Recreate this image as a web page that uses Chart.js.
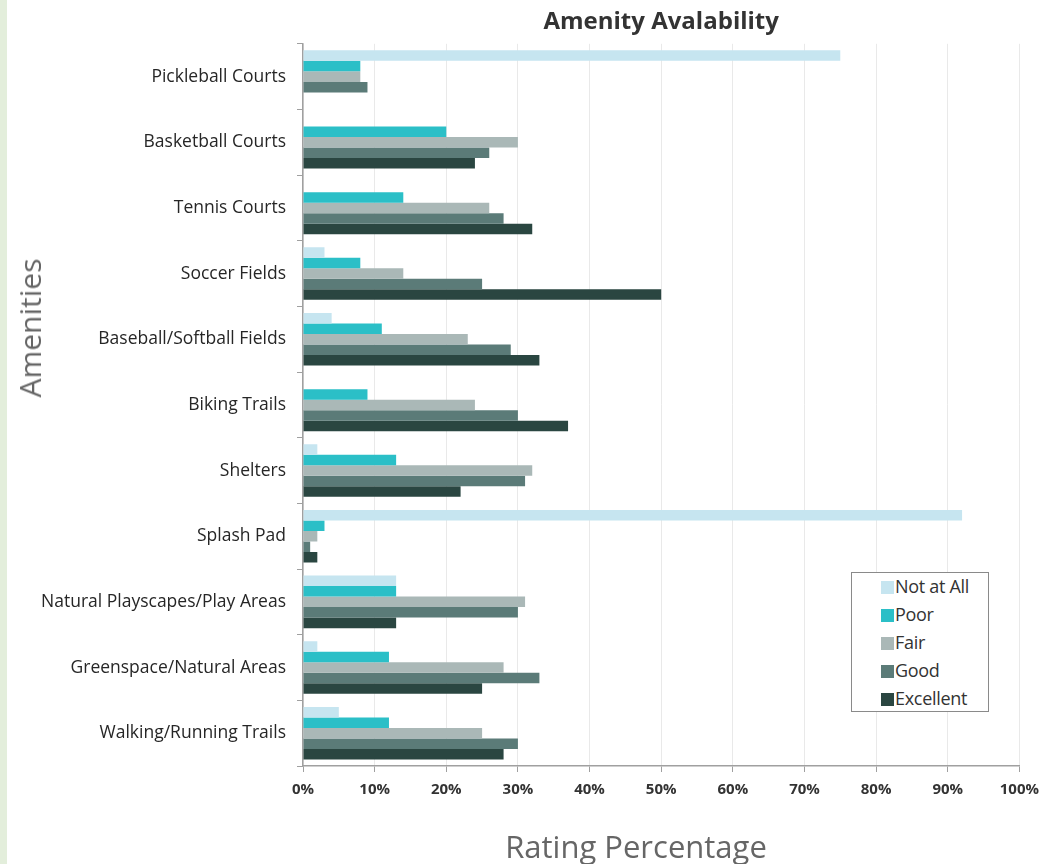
<!DOCTYPE html>
<html>
<head>
<meta charset="utf-8">
<script src="https://cdn.jsdelivr.net/npm/chart.js@4"></script>
<style>
  html, body { margin: 0; padding: 0; background: #ffffff; }
  #wrap { position: relative; width: 1048px; height: 864px; background: #e3eedb; overflow: hidden; }
  #box { position: absolute; left: 7px; top: 0; width: 1041px; height: 864px; background: #ffffff; }
  #legend {
    position: absolute; left: 851px; top: 572px; width: 136px; height: 138px;
    border: 1px solid #8a8a8a; background: #ffffff; box-sizing: content-box;
    font-family: "Open Sans", "Noto Sans", sans-serif; font-size: 18px; color: #333;
  }
  .li { position: absolute; left: 29px; height: 22px; line-height: 22px; white-space: nowrap; letter-spacing: -0.3px; }
  .sw { display: inline-block; width: 13px; height: 13px; vertical-align: -1px; margin-right: 1px; }
  .axt { position: absolute; font-family: "Open Sans", "Noto Sans", sans-serif; color: #666; white-space: nowrap; line-height: 1; }
  #ytitle { left: 30px; top: 328px; font-size: 30px; transform: translate(-50%, -50%) rotate(-90deg); }
  #xtitle { left: 636px; top: 846px; font-size: 31px; transform: translate(-50%, -50%); }
</style>
</head>
<body>
<div id="wrap">
  <div id="box"><canvas id="c" width="1041" height="864"></canvas></div>
  <div id="legend"></div>
  <div class="axt" id="ytitle"></div>
  <div class="axt" id="xtitle"></div>
</div>
<script>
const categories = [
  "Pickleball Courts", "Basketball Courts", "Tennis Courts", "Soccer Fields",
  "Baseball/Softball Fields", "Biking Trails", "Shelters", "Splash Pad",
  "Natural Playscapes/Play Areas", "Greenspace/Natural Areas", "Walking/Running Trails"
];
const seriesNames = ["Not at All", "Poor", "Fair", "Good", "Excellent"];
const seriesColors = ["#c6e5f0", "#2bbfc7", "#aab8b7", "#5b7b78", "#2a4641"];
const notAtAll  = [75, 0, 0, 3, 4, 0, 2, 92, 13, 2, 5];
const poor      = [8, 20, 14, 8, 11, 9, 13, 3, 13, 12, 12];
const fair      = [8, 30, 26, 14, 23, 24, 32, 2, 31, 28, 25];
const good      = [9, 26, 28, 25, 29, 30, 31, 1, 30, 33, 30];
const excellent = [0, 24, 32, 50, 33, 37, 22, 2, 13, 25, 28];
const xTickValues = [0, 10, 20, 30, 40, 50, 60, 70, 80, 90, 100];
const chartTitle = "Amenity Avalability";
const xAxisTitle = "Rating Percentage";
const yAxisTitle = "Amenities";

const seriesValues = [notAtAll, poor, fair, good, excellent];
const FONT = '"Open Sans", "Noto Sans", sans-serif';

const datasets = seriesNames.map((name, i) => ({
  label: name,
  data: seriesValues[i],
  backgroundColor: seriesColors[i],
  borderWidth: 0,
  categoryPercentage: 0.8,
  barPercentage: 1.0
}));

new Chart(document.getElementById('c'), {
  type: 'bar',
  data: { labels: categories, datasets: datasets },
  options: {
    indexAxis: 'y',
    responsive: false,
    animation: false,
    layout: { padding: { left: 0, right: 25, top: 0, bottom: 0 } },
    plugins: {
      legend: { display: false },
      tooltip: { enabled: false },
      title: {
        display: true,
        text: chartTitle,
        fullSize: false,
        color: '#333',
        font: { family: FONT, size: 24, weight: 'bold' },
        padding: { top: 8, bottom: 7 }
      }
    },
    scales: {
      x: {
        min: 0, max: 100,
        afterBuildTicks: (scale) => { scale.ticks = xTickValues.map(v => ({ value: v })); },
        afterFit: (scale) => { scale.height = 98; },
        ticks: {
          callback: (v) => v + '%',
          color: '#333',
          font: { family: FONT, size: 15, weight: 'bold' },
          padding: 9,
          maxRotation: 0
        },
        grid: { color: '#e9e9e9', lineWidth: 1, tickColor: '#a0a0a0', tickLength: 6, drawTicks: true },
        border: { display: true, color: '#a0a0a0', width: 1.5 },
        title: { display: false }
      },
      y: {
        afterFit: (scale) => { scale.width = 296; },
        ticks: {
          color: '#262626',
          font: { family: FONT, size: 17.5 },
          padding: 11
        },
        grid: { drawOnChartArea: false, offset: true, tickColor: '#a0a0a0', tickLength: 6 },
        border: { display: true, color: '#a0a0a0', width: 1.5 },
        title: { display: false }
      }
    }
  }
});

document.getElementById('ytitle').textContent = yAxisTitle;
document.getElementById('xtitle').textContent = xAxisTitle;

// HTML legend built from the same series arrays
const lg = document.getElementById('legend');
seriesNames.forEach((name, i) => {
  const d = document.createElement('div');
  d.className = 'li';
  d.style.top = (2 + i * 28) + 'px';
  d.innerHTML = '<span class="sw" style="background:' + seriesColors[i] + '"></span>' + name;
  lg.appendChild(d);
});
</script>
</body>
</html>
